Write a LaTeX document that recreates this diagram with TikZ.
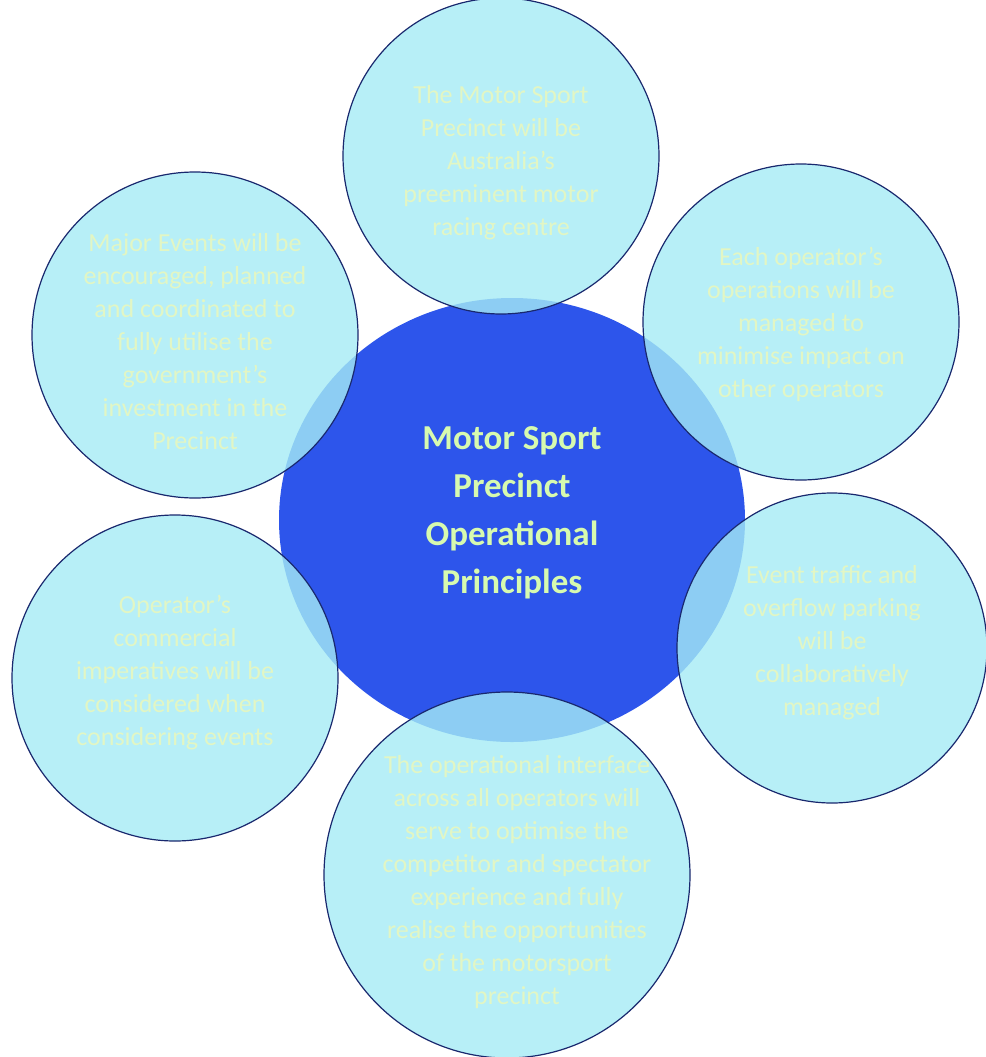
\documentclass[tikz,border=0pt]{standalone}
\usepackage{fontspec}
\setmainfont{Carlito}
\usetikzlibrary{shapes.geometric}
\definecolor{hubblue}{RGB}{45,85,235}
\definecolor{petalcyan}{RGB}{165,236,245}
\definecolor{petaltext}{RGB}{226,246,196}
\definecolor{hubtext}{RGB}{215,250,175}
\definecolor{rim}{RGB}{25,40,110}

\begin{document}
\begin{tikzpicture}
  [x = 1pt, y = -1pt,
   hub/.style = {ellipse, fill=hubblue, minimum width=466pt, minimum height=444pt, inner sep=0pt},
   petal/.style = {circle, draw=rim, line width=1.2pt, fill=petalcyan, fill opacity=.8, inner sep=0pt},
   petaltxt/.style = {align=center, text=petaltext, font=\fontsize{26}{33}\selectfont},
   hubtxt/.style = {align=center, text=hubtext, font=\fontsize{35}{48}\selectfont\bfseries}]
    \fill[white] (0,0) rectangle (985,1057);
    \useasboundingbox (0,0) rectangle (985,1057);

    \node[hub] (hub) at (512,520) {};

    \node[petal, minimum size=316pt] (p1) at (501,156) {};
    \node[petal, minimum size=326pt] (p2) at (195,335) {};
    \node[petal, minimum size=316pt] (p3) at (801,322) {};
    \node[petal, minimum size=310pt] (p4) at (832,648) {};
    \node[petal, minimum size=326pt] (p5) at (175,678) {};
    \node[petal, minimum size=366pt] (p6) at (507,875) {};

    \node[hubtxt] (hubt) at ([yshift=7pt]hub) {Motor Sport\\Precinct\\Operational\\Principles};

    \node[petaltxt] (p1t) at ([yshift=-7pt]p1) {The Motor Sport\\Precinct will be\\Australia's\\preeminent motor\\racing centre};
    \node[petaltxt] (p2t) at ([yshift=-7pt]p2) {Major Events will be\\encouraged, planned\\and coordinated to\\fully utilise the\\government's\\investment in the\\Precinct};
    \node[petaltxt] (p3t) at ([yshift=-2pt]p3) {Each operator's\\operations will be\\managed to\\minimise impact on\\other operators};
    \node[petaltxt] (p4t) at ([yshift=5pt]p4) {Event traffic and\\overflow parking\\will be\\collaboratively\\managed};
    \node[petaltxt] (p5t) at ([yshift=5pt]p5) {Operator's\\commercial\\imperatives will be\\considered when\\considering events};
    \node[petaltxt] (p6t) at ([xshift=10pt,yshift=-7pt]p6) {The operational interface\\across all operators will\\serve to optimise the\\competitor and spectator\\experience and fully\\realise the opportunities\\of the motorsport\\precinct};
  \end{tikzpicture}
\end{document}
